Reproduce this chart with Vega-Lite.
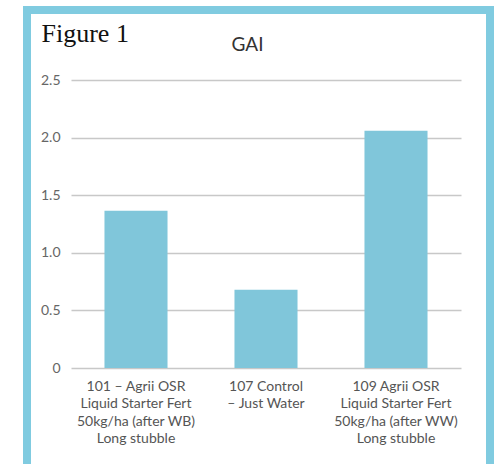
{
  "$schema": "https://vega.github.io/schema/vega-lite/v6.json",
  "width": 463,
  "height": 480,
  "autosize": "none",
  "padding": {"left": 27, "top": 10, "right": 4, "bottom": 0},
  "background": "white",
  "config": {
    "view": {"stroke": "#80cbe0", "strokeWidth": 8},
    "font": "Lato"
  },
  "title": {
    "text": "GAI",
    "anchor": "middle",
    "baseline": "alphabetic",
    "offset": -60,
    "dx": -11,
    "fontSize": 19,
    "fontWeight": "normal",
    "color": "#333333",
    "font": "Lato"
  },
  "data": {
    "values": [
      {"treatment": "101 – Agrii OSR\nLiquid Starter Fert\n50kg/ha (after WB)\nLong stubble", "GAI": 1.365},
      {"treatment": "107 Control\n– Just Water", "GAI": 0.68},
      {"treatment": "109 Agrii OSR\nLiquid Starter Fert\n50kg/ha (after WW)\nLong stubble", "GAI": 2.06}
    ]
  },
  "mark": {"type": "bar", "color": "#80c6da"},
  "encoding": {
    "x": {
      "field": "treatment",
      "type": "nominal",
      "sort": null,
      "scale": {"range": [44, 434], "paddingInner": 0.515, "paddingOuter": 0.2575},
      "axis": {
        "orient": "bottom",
        "offset": -122,
        "title": null,
        "domain": false,
        "ticks": false,
        "labelAngle": 0,
        "labelPadding": 11,
        "labelExpr": "split(datum.label, '\\n')",
        "labelLineHeight": 17.5,
        "labelFontSize": 14,
        "labelColor": "#555555",
        "labelLimit": 0,
        "labelBaseline": "top"
      }
    },
    "y": {
      "field": "GAI",
      "type": "quantitative",
      "scale": {"domain": [0, 2.5], "range": [358, 70]},
      "axis": {
        "orient": "left",
        "offset": -44,
        "domain": false,
        "ticks": false,
        "values": [0, 0.5, 1, 1.5, 2, 2.5],
        "labelExpr": "datum.value == 0 ? '0' : format(datum.value, '.1f')",
        "labelPadding": 11,
        "labelFontSize": 14,
        "labelColor": "#666666",
        "grid": true,
        "gridColor": "#c8c8c8",
        "gridWidth": 1.5,
        "title": "Figure 1",
        "titleAngle": 0,
        "titleAlign": "left",
        "titleBaseline": "alphabetic",
        "titleX": -30,
        "titleY": 31,
        "titleFont": "Liberation Serif",
        "titleFontSize": 26,
        "titleFontWeight": "normal",
        "titleColor": "#111111"
      }
    }
  }
}
